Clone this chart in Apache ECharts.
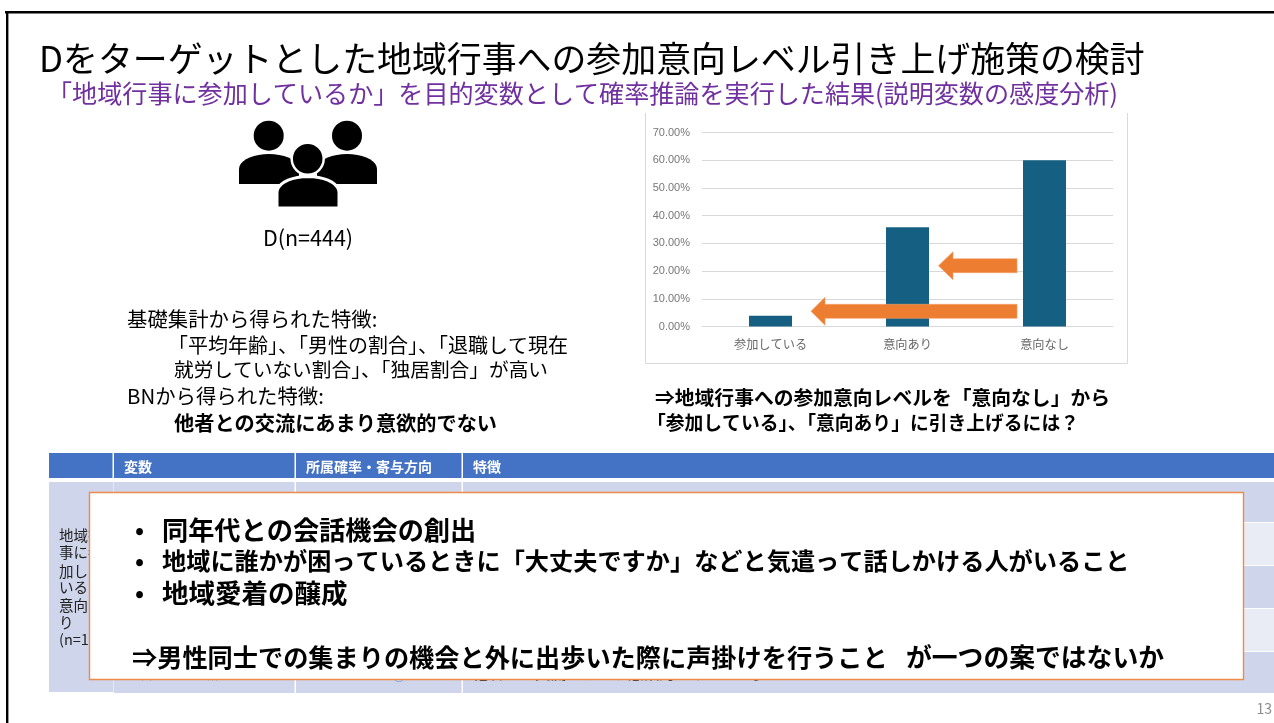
<!DOCTYPE html>
<html lang="ja">
<head>
<meta charset="utf-8">
<title>地域行事への参加意向</title>
<script src="https://cdn.jsdelivr.net/npm/echarts@6/dist/echarts.min.js"></script>
<style>
html,body{margin:0;padding:0;background:#fff;}
#slide{width:1274px;height:723px;}
</style>
</head>
<body>
<div id="slide"></div>
<script>
// Survey shares of participation intent
const categories = ['参加している', '意向あり', '意向なし'];
const shares = [3.9, 35.8, 60.0];
const axisTicks = { min: 0, max: 70, step: 10 };

const titleText = 'Dをターゲットとした地域行事への参加意向レベル引き上げ施策の検討';
const subtitleText = '「地域行事に参加しているか」を目的変数として確率推論を実行した結果(説明変数の感度分析)';
const tableHeaders = ['変数', '所属確率・寄与方向', '特徴'];
const rowLabelLines = ['地域行', '事に参', '加して', 'いる・', '意向あ', 'り', '(n=173)'];
const lastRowCells = ['周囲の人との会話', '◎', '他者との交流にあまり意欲的でない人が多い'];

const FONT = '"Noto Sans CJK JP", "Noto Sans", sans-serif';
const BLUE = '#4472C4', BAND_DARK = '#CFD5EA', BAND_LIGHT = '#E9EBF5', ORANGE = '#ED7D31';

function label(text, x, y, size, opts) {
  const o = opts || {};
  return {
    type: 'text', x, y, z: o.z == null ? 20 : o.z, silent: true,
    style: {
      text, fontFamily: FONT, fontSize: size,
      fontWeight: o.bold ? 700 : 400,
      fill: o.color || '#000',
      align: o.align || 'left', verticalAlign: 'middle'
    }
  };
}
function rect(x, y, width, height, fill, z) {
  return { type: 'rect', silent: true, z: z == null ? 1 : z, shape: { x, y, width, height }, style: { fill } };
}
function arrow(tail, tip, neck, cy, shaftHalf, headHalf) {
  return {
    type: 'polygon', silent: true, z: 10,
    shape: { points: [
      [tail, cy - shaftHalf], [neck, cy - shaftHalf], [neck, cy - headHalf], [tip, cy],
      [neck, cy + headHalf], [neck, cy + shaftHalf], [tail, cy + shaftHalf]
    ] },
    style: { fill: ORANGE, stroke: '#F4A06A', lineWidth: 0.6 }
  };
}
// Shoulders of a person icon: flat bottom and a rounded top
function body(x, y, w, h, halo) {
  const pts = [[x, y + h]];
  for (let a = 180; a <= 360; a += 10) {
    const rad = a * Math.PI / 180;
    pts.push([x + w / 2 + (w / 2) * Math.cos(rad), y + h * 0.5 + h * 0.5 * Math.sin(rad)]);
  }
  pts.push([x + w, y + h]);
  return {
    type: 'polygon', silent: true, z: halo ? 6 : 5,
    shape: { points: pts },
    style: { fill: '#000', stroke: halo ? '#fff' : null, lineWidth: halo ? 3 : 0 }
  };
}
function head(cx, cy, halo) {
  return {
    type: 'circle', silent: true, z: halo ? 6 : 5,
    shape: { cx, cy, r: halo ? 16 : 15 },
    style: { fill: '#000', stroke: halo ? '#fff' : null, lineWidth: halo ? 2.5 : 0 }
  };
}

const graphics = [];

// Slide border
graphics.push(rect(5, 11, 1269, 2.6, '#000', 30));
graphics.push(rect(6, 11, 2.4, 712, '#000', 30));

// Headline
graphics.push(label(titleText, 39, 59, 34.9));
graphics.push(label(subtitleText, 47, 93, 25.1, { color: '#7030A0' }));

// Group icon
graphics.push(body(239, 154, 60, 30), body(317, 154, 60, 30), head(268.7, 135.7), head(347, 135.7));
graphics.push(body(277, 176.5, 62, 31.5, true), head(307.7, 158.7, true));
graphics.push(label('D(n=444)', 308, 238, 21.5, { align: 'center' }));

// Findings on the left
graphics.push(label('基礎集計から得られた特徴:', 127, 319, 20.4));
graphics.push(label('「平均年齢」、「男性の割合」、「退職して現在', 168, 345, 20));
graphics.push(label('就労していない割合」、「独居割合」が高い', 174, 370, 19.7));
graphics.push(label('BNから得られた特徴:', 127, 396, 20.4));
graphics.push(label('他者との交流にあまり意欲的でない', 174, 423, 20.2, { bold: true }));

// Question under the bar chart
graphics.push(label('⇒地域行事への参加意向レベルを「意向なし」から', 655, 397, 19.8, { bold: true }));
graphics.push(label('「参加している」、「意向あり」に引き上げるには\uFF1F', 647, 423, 18.8, { bold: true }));

// Frame round the bar chart
graphics.push({
  type: 'polyline', silent: true, z: 1,
  shape: { points: [[645.5, 113], [645.5, 363.5], [1127.5, 363.5], [1127.5, 113]] },
  style: { stroke: '#D9D9D9', lineWidth: 1, fill: null }
});
graphics.push(arrow(1017, 938.5, 953, 265.7, 7, 14));
graphics.push(arrow(1017, 811, 825, 311.3, 7, 14));

// Table behind the callout
const colEdges = [49, 114, 296, 463, 1274];
colEdges.slice(0, -1).forEach((x, i) => {
  graphics.push(rect(x, 453, colEdges[i + 1] - x - (i < 3 ? 1.5 : 0), 25, BLUE));
  if (i > 0) graphics.push(label(tableHeaders[i - 1], x + 10, 467, 14, { bold: true, color: '#fff', z: 3 }));
});
graphics.push(rect(49, 482, 64.5, 210, BAND_DARK));
const rowEdges = [482, 523, 566, 609, 652, 694];
rowEdges.slice(0, -1).forEach((y, r) => {
  colEdges.slice(1, -1).forEach((x, i) => {
    graphics.push(rect(x, y, colEdges[i + 2] - x - (i < 2 ? 1.5 : 0), rowEdges[r + 1] - y - 1, r % 2 ? BAND_LIGHT : BAND_DARK));
  });
});
rowLabelLines.forEach((t, i) => {
  graphics.push(label(t, 59, [535, 552, 571, 587, 605, 622, 639][i], 14.5, { color: '#222', z: 3 }));
});
graphics.push(label(lastRowCells[0], 130, 675, 11, { color: '#333', z: 3 }));
graphics.push(label(lastRowCells[1], 399, 675, 13, { color: '#2E8BD0', z: 3, align: 'center' }));
graphics.push(label(lastRowCells[2], 473, 673.5, 15.5, { color: '#333', z: 3 }));

// Callout
graphics.push({
  type: 'rect', silent: true, z: 15,
  shape: { x: 89.5, y: 492.5, width: 1154, height: 187 },
  style: { fill: '#fff', stroke: '#EE8A4A', lineWidth: 1.4 }
});
['同年代との会話機会の創出',
 '地域に誰かが困っているときに「大丈夫ですか」などと気遣って話しかける人がいること',
 '地域愛着の醸成'].forEach((t, i) => {
  const y = [530, 561, 593][i];
  graphics.push(label('•', 135, y, 24, { bold: true }));
  graphics.push(label(t, 162, y, [26.2, 24.2, 26.5][i], { bold: true }));
});
graphics.push(label('⇒男性同士での集まりの機会と外に出歩いた際に声掛けを行うこと', 132, 657, 25.2, { bold: true }));
graphics.push(label('が一つの案ではないか', 906, 657, 25.8, { bold: true }));

// Page number
graphics.push(label('13', 1272, 709, 14, { color: '#8C8C8C', align: 'right' }));

const chart = echarts.init(document.getElementById('slide'), null, { renderer: 'canvas' });
chart.setOption({
  animation: false,
  backgroundColor: '#fff',
  grid: { left: 702, top: 132.5, width: 411, height: 194 },
  xAxis: {
    type: 'category', data: categories,
    axisLine: { lineStyle: { color: '#D9D9D9', width: 1 } },
    axisTick: { show: false },
    axisLabel: { color: '#666', fontSize: 12.2, fontFamily: FONT, margin: 12 }
  },
  yAxis: {
    type: 'value', min: axisTicks.min, max: axisTicks.max, interval: axisTicks.step,
    axisLine: { show: false }, axisTick: { show: false },
    splitLine: { lineStyle: { color: '#D9D9D9', width: 1 } },
    axisLabel: {
      color: '#777', fontSize: 11, fontFamily: '"Liberation Sans", sans-serif', margin: 12,
      padding: [2, 0, 0, 0],
      formatter: v => v.toFixed(2) + '%'
    }
  },
  series: [{
    type: 'bar', data: shares, barWidth: 43,
    itemStyle: { color: '#156082' }, z: 5
  }],
  graphic: { elements: graphics }
});
</script>
</body>
</html>
